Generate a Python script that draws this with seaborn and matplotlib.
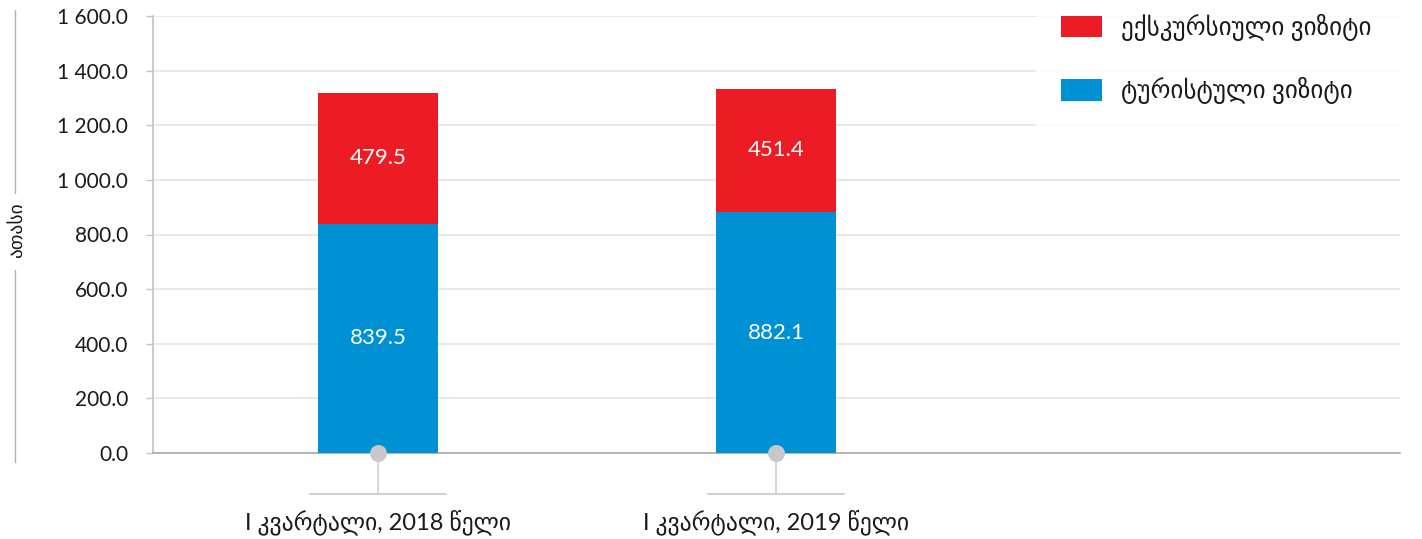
import matplotlib
matplotlib.use('Agg')
import numpy as np
import pandas as pd
import matplotlib.pyplot as plt
import matplotlib.transforms as mtransforms
from matplotlib.lines import Line2D
from matplotlib.patches import Patch
from matplotlib.ticker import FuncFormatter
import seaborn as sns

# chart data
periods = ['I კვარტალი, 2018 წელი', 'I კვარტალი, 2019 წელი']
tourist = [839.5, 882.1]
excursion = [479.5, 451.4]
series_names = ['ექსკურსიული ვიზიტი', 'ტურისტული ვიზიტი']
y_ticks = [0, 200, 400, 600, 800, 1000, 1200, 1400, 1600]
unit_label = 'ათასი'

RED = '#ED1C24'
BLUE = '#0091D5'
GREY = '#c4c4c4'

sns.set_theme(style='white')
plt.rcParams['font.family'] = ['Lato', 'DejaVu Sans']

df = pd.DataFrame({'period': periods, 'tourist': tourist, 'excursion': excursion})
df['total'] = df['tourist'] + df['excursion']

fig = plt.figure(figsize=(14.22, 5.39), dpi=100)
ax = fig.add_axes([153 / 1422, 1 - 453 / 539, 1247 / 1422, 437 / 539])

# stacked bars: total in red, tourist part in blue drawn over it
sns.barplot(data=df, x='period', y='total', color=RED, width=0.30,
            saturation=1, linewidth=0, ax=ax, zorder=2)
sns.barplot(data=df, x='period', y='tourist', color=BLUE, width=0.30,
            saturation=1, linewidth=0, ax=ax, zorder=3)

for i, row in df.iterrows():
    ax.text(i, row['tourist'] / 2, f"{row['tourist']:.1f}", ha='center', va='center',
            color='white', fontsize=16, zorder=4)
    ax.text(i, row['tourist'] + row['excursion'] / 2, f"{row['excursion']:.1f}",
            ha='center', va='center', color='white', fontsize=16, zorder=4)

ax.set_ylim(0, 1600)
ax.set_xlim(-0.565, 2.568)
ax.set_yticks(y_ticks)
ax.yaxis.set_major_formatter(FuncFormatter(lambda v, _: f'{v:,.1f}'.replace(',', ' ')))
ax.yaxis.grid(True, color='#e4e4e4', lw=1.2)
ax.set_axisbelow(True)
ax.tick_params(axis='y', left=True, length=5, width=1, color=GREY, labelsize=15,
               labelcolor='#1a1a1a', pad=13)
ax.set_xticks([])
ax.set_xlabel('')
ax.set_ylabel('')
for s in ['top', 'right']:
    ax.spines[s].set_visible(False)
ax.spines['left'].set_color(GREY)
ax.spines['bottom'].set_color('#a8a8a8')
ax.spines['bottom'].set_linewidth(1.2)

# category markers and leader lines under the axis
trans = mtransforms.blended_transform_factory(ax.transData, ax.transAxes)
ax.scatter(range(len(periods)), [0] * len(periods), s=150, color='#c8c8c8',
           zorder=6, clip_on=False, linewidths=0)
for i, name in enumerate(periods):
    ax.plot([i, i], [0, -0.093], transform=trans, color='#d0d0d0', lw=1.2, clip_on=False)
    ax.plot([i - 0.17, i + 0.17], [-0.094, -0.094], transform=trans, color='#d0d0d0',
            lw=1.5, clip_on=False)
    ax.text(i, -0.158, name, transform=trans, ha='center', va='center', fontsize=17,
            color='#1a1a1a')

# unit label with side rules
fig.text(16 / 1422, 1 - 230 / 539, unit_label, rotation=90, ha='center', va='center',
         fontsize=14, color='#1a1a1a')
fig.add_artist(Line2D([15 / 1422] * 2, [1 - 10 / 539, 1 - 193 / 539],
                      transform=fig.transFigure, color='#b0b0b0', lw=1))
fig.add_artist(Line2D([15 / 1422] * 2, [1 - 270 / 539, 1 - 462 / 539],
                      transform=fig.transFigure, color='#b0b0b0', lw=1))

# legend box, white, stretched to the right edge so it hides the grid under it
handles = [Patch(facecolor=RED, edgecolor='none'), Patch(facecolor=BLUE, edgecolor='none')]
leg = fig.legend(handles, series_names, loc='upper left', mode='expand',
                 bbox_to_anchor=(1043 / 1422, 1 + 4 / 539 - 0.2, 380 / 1422, 0.2),
                 frameon=True, fontsize=18, handlelength=1.64, handleheight=0.95,
                 handletextpad=0.76, labelspacing=1.45, borderpad=0.72, borderaxespad=0)
for t in leg.get_texts():
    t.set_color('#1a1a1a')
leg.get_frame().set_facecolor('white')
leg.get_frame().set_edgecolor('none')
leg.get_frame().set_boxstyle('square')

fig.savefig('out.png', dpi=100)
